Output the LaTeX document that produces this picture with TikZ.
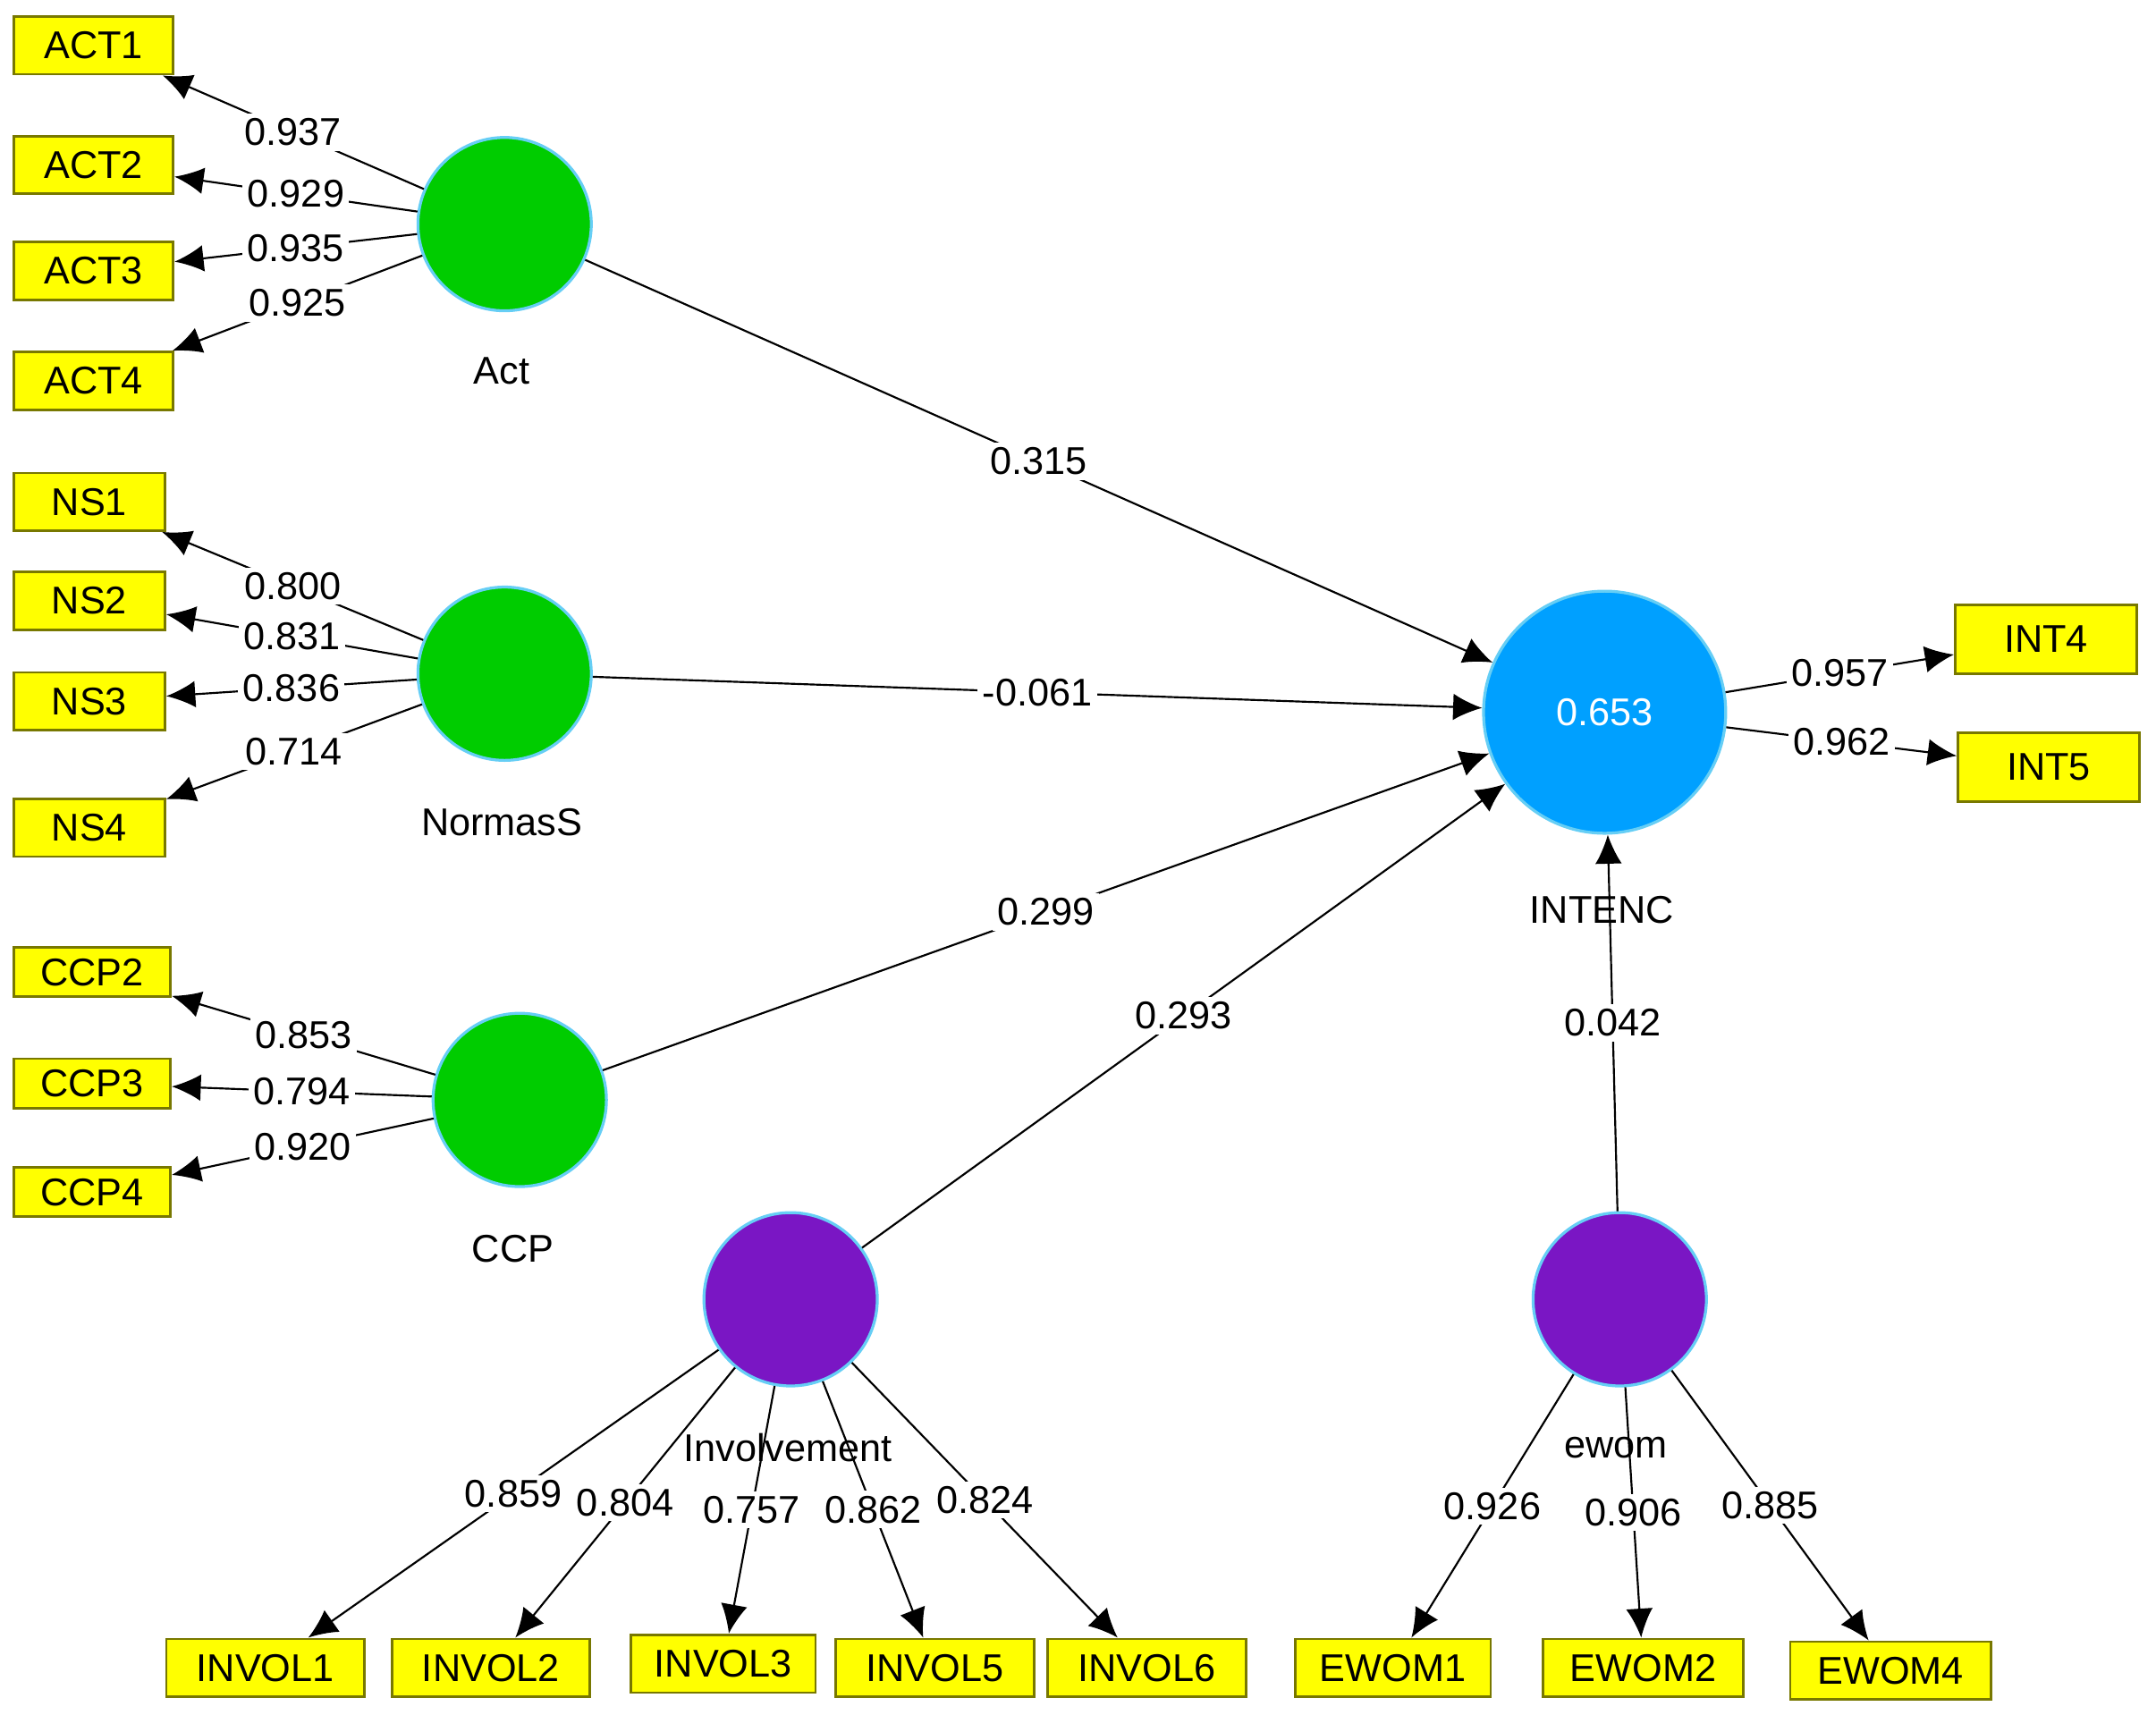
\documentclass[tikz,border=0pt]{standalone}
\usepackage{fontspec}
\setmainfont{Liberation Sans}
\usetikzlibrary{arrows.meta}
\definecolor{grn}{RGB}{0,204,0}
\definecolor{blu}{RGB}{0,160,255}
\definecolor{pur}{RGB}{122,22,196}
\definecolor{ylw}{RGB}{255,255,0}
\definecolor{ybd}{RGB}{120,120,0}
\begin{document}
\begin{tikzpicture}[x=0.01cm,y=-0.01cm,
  font=\fontsize{8}{10}\selectfont,
  box/.style={draw=ybd,fill=ylw,line width=0.5pt,minimum height=0.42cm,inner sep=0pt},
  lv/.style={circle,draw=cyan!60,line width=0.6pt,minimum size=1.26cm,inner sep=0pt},
  arr/.style={-{Latex[length=6pt,width=5.5pt]},line width=0.4pt},
  lbl/.style={fill=white,inner sep=1pt,pos=0.5},
  lvcap/.style={inner sep=0pt}]
\useasboundingbox (0,0) rectangle (1568,1247);
% latent variables
\node[lv,fill=grn] (act) at (367,163) {};
\node[lv,fill=grn] (ns) at (367,490) {};
\node[lv,fill=grn] (ccp) at (378,800) {};
\node[lv,fill=blu,minimum size=1.76cm,text=white] (int) at (1167,518) {0.653};
\node[lv,fill=pur] (inv) at (575,945) {};
\node[lv,fill=pur] (ew) at (1178,945) {};
\node[lvcap] (tact) at (365,270) {Act};
\node[lvcap] (tns) at (365,598) {NormasS};
\node[lvcap] (tccp) at (373,908) {CCP};
\node[lvcap] (tint) at (1165,662) {INTENC};
\node[lvcap] (tinv) at (573,1053) {Involvement};
\node[lvcap] (tew) at (1175,1053) {ewom};
% indicators
\node[box,minimum width=1.16cm] (a1) at (68,33) {ACT1};
\node[box,minimum width=1.16cm] (a2) at (68,120) {ACT2};
\node[box,minimum width=1.16cm] (a3) at (68,197) {ACT3};
\node[box,minimum width=1.16cm] (a4) at (68,277) {ACT4};
\node[box,minimum width=1.10cm] (n1) at (65,365) {NS1};
\node[box,minimum width=1.10cm] (n2) at (65,437) {NS2};
\node[box,minimum width=1.10cm] (n3) at (65,510) {NS3};
\node[box,minimum width=1.10cm] (n4) at (65,602) {NS4};
\node[box,minimum width=1.14cm,minimum height=0.36cm] (c2) at (67,707) {CCP2};
\node[box,minimum width=1.14cm,minimum height=0.36cm] (c3) at (67,788) {CCP3};
\node[box,minimum width=1.14cm,minimum height=0.36cm] (c4) at (67,867) {CCP4};
\node[box,minimum width=1.32cm,minimum height=0.5cm] (i4) at (1488,465) {INT4};
\node[box,minimum width=1.32cm,minimum height=0.5cm] (i5) at (1490,558) {INT5};
\node[box,minimum width=1.44cm] (v1) at (193,1213) {INVOL1};
\node[box,minimum width=1.44cm] (v2) at (357,1213) {INVOL2};
\node[box,minimum width=1.34cm] (v3) at (526,1210) {INVOL3};
\node[box,minimum width=1.44cm] (v5) at (680,1213) {INVOL5};
\node[box,minimum width=1.44cm] (v6) at (834,1213) {INVOL6};
\node[box,minimum width=1.42cm] (e1) at (1013,1213) {EWOM1};
\node[box,minimum width=1.46cm] (e2) at (1195,1213) {EWOM2};
\node[box,minimum width=1.46cm] (e4) at (1375,1215) {EWOM4};
% loadings
\draw[arr] (act) -- node[lbl]{0.937} (a1);
\draw[arr] (act) -- node[lbl]{0.929} (a2);
\draw[arr] (act) -- node[lbl]{0.935} (a3);
\draw[arr] (act) -- node[lbl]{0.925} (a4);
\draw[arr] (ns) -- node[lbl]{0.800} (n1);
\draw[arr] (ns) -- node[lbl]{0.831} (n2);
\draw[arr] (ns) -- node[lbl]{0.836} (n3);
\draw[arr] (ns) -- node[lbl]{0.714} (n4);
\draw[arr] (ccp) -- node[lbl]{0.853} (c2);
\draw[arr] (ccp) -- node[lbl]{0.794} (c3);
\draw[arr] (ccp) -- node[lbl]{0.920} (c4);
\draw[arr] (int) -- node[lbl]{0.957} (i4);
\draw[arr] (int) -- node[lbl]{0.962} (i5);
\draw[arr] (inv) -- node[lbl]{0.859} (v1);
\draw[arr] (inv) -- node[lbl]{0.804} (v2);
\draw[arr] (inv) -- node[lbl]{0.757} (v3);
\draw[arr] (inv) -- node[lbl]{0.862} (v5);
\draw[arr] (inv) -- node[lbl]{0.824} (v6);
\draw[arr] (ew) -- node[lbl]{0.926} (e1);
\draw[arr] (ew) -- node[lbl]{0.906} (e2);
\draw[arr] (ew) -- node[lbl]{0.885} (e4);
% paths
\draw[arr] (act) -- node[lbl]{0.315} (int);
\draw[arr] (ns) -- node[lbl]{-0.061} (int);
\draw[arr] (ccp) -- node[lbl]{0.299} (int);
\draw[arr] (inv) -- node[lbl]{0.293} (int);
\draw[arr] (ew) -- node[lbl]{0.042} (int);
\end{tikzpicture}
\end{document}
